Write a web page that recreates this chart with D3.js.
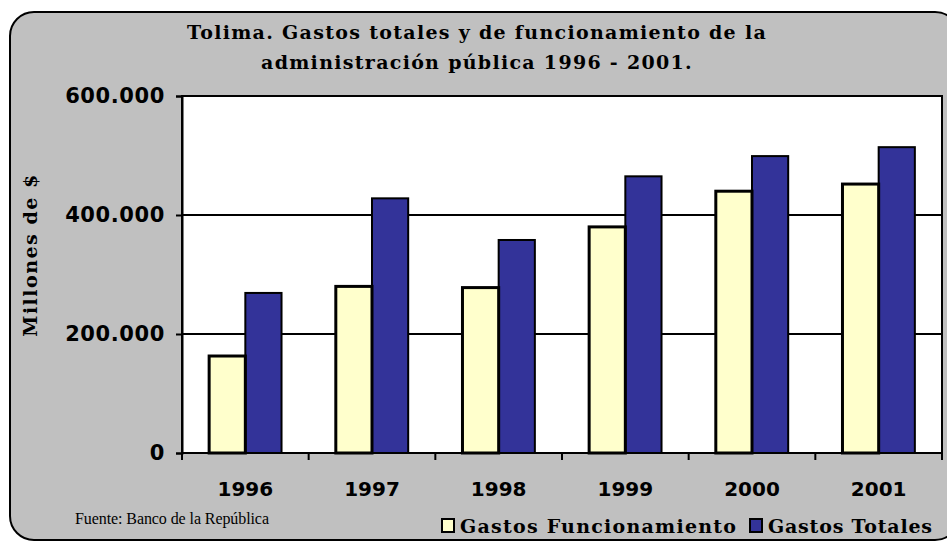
<!DOCTYPE html>
<html>
<head>
<meta charset="utf-8">
<script src="https://cdn.jsdelivr.net/npm/d3@7"></script>
<style>
  body { margin: 0; background: #fff; }
  svg { display: block; }
</style>
</head>
<body>
<div id="chart"></div>
<script>
// data
const years = ["1996", "1997", "1998", "1999", "2000", "2001"];
const seriesNames = ["Gastos Funcionamiento", "Gastos Totales"];
const funcionamiento = [163000, 280000, 278000, 380000, 440000, 452000];
const totales = [269000, 428000, 358000, 465000, 499000, 514000];
const yTicks = [0, 200000, 400000, 600000];

const svgWidth = 947;
const svgHeight = 542;

// plot area box
const plot = { left: 182, right: 942, top: 96, bottom: 453 };

const svg = d3.select("#chart")
    .append("svg")
    .attr("width", svgWidth)
    .attr("height", svgHeight);

// outer chart frame
svg.append("rect")
    .attr("x", 10)
    .attr("y", 12)
    .attr("width", 949)
    .attr("height", 528)
    .attr("rx", 24)
    .attr("fill", "#c0c0c0")
    .attr("stroke", "#000")
    .attr("stroke-width", 2);

// spanish number format 600.000
const es = d3.formatLocale({ decimal: ",", thousands: ".", grouping: [3], currency: ["$", ""] });
const fmt = es.format(",d");

const x0 = d3.scaleBand()
    .domain(years)
    .range([plot.left, plot.right])
    .paddingInner(0)
    .paddingOuter(0);

const x1 = d3.scaleBand()
    .domain(seriesNames)
    .range([0, x0.bandwidth()])
    .paddingInner(0)
    .paddingOuter(0.75);

const y = d3.scaleLinear()
    .domain([0, 600000])
    .range([plot.bottom, plot.top]);

// plot background
svg.append("rect")
    .attr("x", plot.left)
    .attr("y", plot.top)
    .attr("width", plot.right - plot.left)
    .attr("height", plot.bottom - plot.top)
    .attr("fill", "#fff")
    .attr("stroke", "#000")
    .attr("stroke-width", 2);

// gridlines
svg.append("g")
    .selectAll("line")
    .data(yTicks.filter(d => d > 0))
    .enter()
    .append("line")
    .attr("x1", plot.left)
    .attr("x2", plot.right)
    .attr("y1", d => y(d))
    .attr("y2", d => y(d))
    .attr("stroke", "#000")
    .attr("stroke-width", 2);

// bars
const colors = { "Gastos Funcionamiento": "#ffffcc", "Gastos Totales": "#333399" };
const strokeW = { "Gastos Funcionamiento": 3, "Gastos Totales": 2 };
const rows = years.map((yr, i) => ({ year: yr, values: [
    { key: seriesNames[0], value: funcionamiento[i] },
    { key: seriesNames[1], value: totales[i] }
] }));

const groups = svg.append("g")
    .selectAll("g")
    .data(rows)
    .enter()
    .append("g")
    .attr("transform", d => `translate(${x0(d.year)},0)`);

groups.selectAll("rect")
    .data(d => d.values.slice().reverse())
    .enter()
    .append("rect")
    .attr("x", d => x1(d.key))
    .attr("y", d => y(d.value))
    .attr("width", x1.bandwidth())
    .attr("height", d => y(0) - y(d.value))
    .attr("fill", d => colors[d.key])
    .attr("stroke", "#000")
    .attr("stroke-width", d => strokeW[d.key]);

// y axis
const leftAxis = d3.axisLeft(y)
    .tickValues(yTicks)
    .tickFormat(fmt)
    .tickSize(6)
    .tickPadding(11);

const yAxis = svg.append("g")
    .attr("transform", `translate(${plot.left},0)`)
    .call(leftAxis);
yAxis.select(".domain").attr("stroke-width", 2);
yAxis.selectAll(".tick line").attr("stroke-width", 2);
yAxis.selectAll("text")
    .attr("font-family", "'DejaVu Sans', Verdana, sans-serif")
    .attr("font-weight", "bold")
    .attr("font-size", "21px")
    .attr("letter-spacing", "0.6px")
    .attr("fill", "#000");

// x axis: ticks at category boundaries
const xAxis = svg.append("g");
xAxis.append("line")
    .attr("x1", plot.left)
    .attr("x2", plot.right)
    .attr("y1", plot.bottom)
    .attr("y2", plot.bottom)
    .attr("stroke", "#000")
    .attr("stroke-width", 2);
xAxis.selectAll(".xtick")
    .data(years.concat(["end"]))
    .enter()
    .append("line")
    .attr("x1", (d, i) => plot.left + i * x0.step())
    .attr("x2", (d, i) => plot.left + i * x0.step())
    .attr("y1", plot.bottom)
    .attr("y2", plot.bottom + 7)
    .attr("stroke", "#000")
    .attr("stroke-width", 2);
xAxis.selectAll(".xlabel")
    .data(years)
    .enter()
    .append("text")
    .attr("x", d => x0(d) + x0.bandwidth() / 2)
    .attr("y", 496)
    .attr("text-anchor", "middle")
    .attr("font-family", "'DejaVu Sans', Verdana, sans-serif")
    .attr("font-weight", "bold")
    .attr("font-size", "20px")
    .text(d => d);

// title
const titleLines = ["Tolima. Gastos totales y de funcionamiento de la",
    "administración pública 1996 - 2001."];
svg.append("g")
    .selectAll("text")
    .data(titleLines)
    .enter()
    .append("text")
    .attr("x", 477)
    .attr("y", (d, i) => 39 + i * 30)
    .attr("text-anchor", "middle")
    .attr("font-family", "'DejaVu Serif', serif")
    .attr("font-weight", "bold")
    .attr("font-size", "19px")
    .attr("letter-spacing", "1.3px")
    .text(d => d);

// y axis title
svg.append("text")
    .attr("transform", "translate(37,255) rotate(-90)")
    .attr("text-anchor", "middle")
    .attr("font-family", "'DejaVu Serif', serif")
    .attr("font-weight", "bold")
    .attr("font-size", "19px")
    .attr("letter-spacing", "1.5px")
    .text("Millones de $");

// source note
svg.append("text")
    .attr("x", 75)
    .attr("y", 524)
    .attr("font-family", "'Liberation Serif', 'Times New Roman', serif")
    .attr("font-size", "16px")
    .attr("textLength", 194)
    .attr("lengthAdjust", "spacing")
    .text("Fuente: Banco de la República");

// legend
const legendX = [442, 750];
const legendW = [276, 164];
const legend = svg.append("g")
    .selectAll("g")
    .data(seriesNames)
    .enter()
    .append("g")
    .attr("transform", (d, i) => `translate(${legendX[i]},519)`);
legend.append("rect")
    .attr("width", 12)
    .attr("height", 13)
    .attr("fill", d => colors[d])
    .attr("stroke", "#000")
    .attr("stroke-width", 2);
legend.append("text")
    .attr("x", 18)
    .attr("y", 14)
    .attr("font-family", "'DejaVu Serif', serif")
    .attr("font-weight", "bold")
    .attr("font-size", "19px")
    .attr("textLength", (d, i) => legendW[i])
    .attr("lengthAdjust", "spacing")
    .text(d => d);
</script>
</body>
</html>
